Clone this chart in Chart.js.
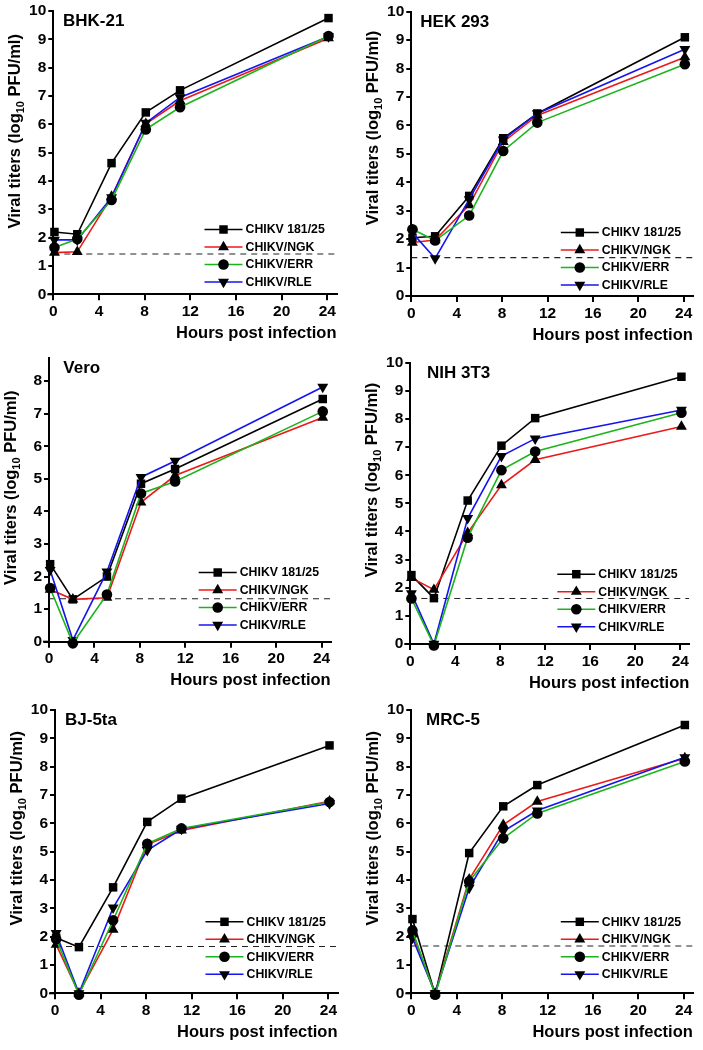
<!DOCTYPE html>
<html>
<head>
<meta charset="utf-8">
<script src="https://cdn.jsdelivr.net/npm/chart.js@4.4.1/dist/chart.umd.min.js"></script>
<style>
  html, body { margin: 0; padding: 0; background: #fff; }
  #wrap { position: relative; width: 703px; height: 1050px; }
  canvas { position: absolute; }
</style>
</head>
<body>
<div id="wrap"></div>
<script>
// sampling times (h) and labels
var hours = [0.1, 2.1, 5.1, 8.1, 11.1, 24.1];
var strains = ["CHIKV 181/25", "CHIKV/NGK", "CHIKV/ERR", "CHIKV/RLE"];
var cellLines = ["BHK-21", "HEK 293", "Vero", "NIH 3T3", "BJ-5ta", "MRC-5"];
var xTicks = [0, 4, 8, 12, 16, 20, 24];
var yTicks10 = [0, 1, 2, 3, 4, 5, 6, 7, 8, 9, 10];
var yTicks8 = [0, 1, 2, 3, 4, 5, 6, 7, 8];
var xTitle = "Hours post infection";
var detLimit = [1.42, 1.35, 1.32, 1.62, 1.65, 1.67];

// log10 PFU/ml, one array per strain and cell line
var bhk181 = [2.20, 2.12, 4.63, 6.42, 7.20, 9.75];
var bhkNGK = [1.47, 1.50, 3.45, 6.02, 6.83, 9.04];
var bhkERR = [1.65, 1.95, 3.33, 5.82, 6.60, 9.12];
var bhkRLE = [1.92, 1.92, 3.42, 6.05, 6.95, 9.10];

var hek181 = [2.05, 2.10, 3.52, 5.55, 6.42, 9.10];
var hekNGK = [1.88, 1.97, 3.20, 5.42, 6.35, 8.40];
var hekERR = [2.35, 1.95, 2.83, 5.10, 6.10, 8.15];
var hekRLE = [2.22, 1.32, 3.40, 5.50, 6.42, 8.68];

var vero181 = [2.38, 1.30, 2.00, 4.85, 5.30, 7.45];
var veroNGK = [1.60, 1.30, 1.35, 4.28, 5.10, 6.88];
var veroERR = [1.65, -0.05, 1.45, 4.55, 4.92, 7.07];
var veroRLE = [2.20, 0.05, 2.15, 5.05, 5.55, 7.82];

var nih181 = [2.45, 1.63, 5.10, 7.05, 8.03, 9.50];
var nihNGK = [2.35, 1.93, 3.95, 5.65, 6.55, 7.73];
var nihERR = [1.62, -0.05, 3.78, 6.18, 6.84, 8.22];
var nihRLE = [1.80, 0.00, 4.47, 6.68, 7.30, 8.32];

var bj181 = [1.96, 1.63, 3.74, 6.05, 6.87, 8.75];
var bjNGK = [1.72, 0.00, 2.25, 5.25, 5.75, 6.78];
var bjERR = [1.92, -0.05, 2.58, 5.28, 5.82, 6.75];
var bjRLE = [2.12, 0.00, 3.02, 5.05, 5.80, 6.70];

var mrc181 = [2.62, -0.03, 4.95, 6.60, 7.35, 9.47];
var mrcNGK = [2.12, 0.00, 4.02, 5.95, 6.77, 8.30];
var mrcERR = [2.22, -0.05, 3.95, 5.47, 6.35, 8.18];
var mrcRLE = [1.95, 0.00, 3.72, 5.72, 6.45, 8.33];

var panelData = [
  [bhk181, bhkNGK, bhkERR, bhkRLE],
  [hek181, hekNGK, hekERR, hekRLE],
  [vero181, veroNGK, veroERR, veroRLE],
  [nih181, nihNGK, nihERR, nihRLE],
  [bj181, bjNGK, bjERR, bjRLE],
  [mrc181, mrcNGK, mrcERR, mrcRLE]
];

// styling / placement
var lineColors = ["#000000", "#ea1a1a", "#1cb41c", "#1414ee"];
var markers = ["rect", "triangle", "circle", "triangle"];
var markerRot = [0, 0, 0, 180];
var markerSize = [6, 6.3, 5.3, 6.3];
var drawOrder = [3, 2, 0, 1];
var FONT = "'Liberation Sans', Arial, sans-serif";
var YW = 40, XH = 49;

var layout = [
  {x: 0,   y: 0,   w: 352, h: 350, l: 53.3, t: 11,   r: 336.5, b: 294.3, ymax: 10,  tx: 9.7,  ty: 163, lg: 12.3},
  {x: 352, y: 0,   w: 351, h: 350, l: 59.3, t: 11.7, r: 340.8, b: 296,   ymax: 10,  tx: 9,    ty: 168, lg: 11},
  {x: 0,   y: 350, w: 352, h: 345, l: 49,   t: 8.3,  r: 330.7, b: 291.7, ymax: 8.7, tx: 14.3, ty: 154, lg: 16.7},
  {x: 352, y: 350, w: 351, h: 345, l: 58.3, t: 12.7, r: 337.3, b: 294,   ymax: 10,  tx: 16.7, ty: 164, lg: 17.3},
  {x: 0,   y: 695, w: 352, h: 355, l: 55,   t: 15,   r: 337.5, b: 298.3, ymax: 10,  tx: 10,   ty: 165, lg: 19},
  {x: 352, y: 695, w: 351, h: 355, l: 59.3, t: 15,   r: 340.8, b: 298.3, ymax: 10,  tx: 14.7, ty: 165, lg: 19}
];

Chart.defaults.font.family = FONT;
Chart.defaults.color = "#000";

function fixX(s) { s.height = XH; s.paddingLeft = 0; s.paddingRight = 0; }
function fixY(s) { s.width = YW; s.paddingTop = 0; s.paddingBottom = 0; }

var decor = {
  id: "decor",
  afterDraw: function (chart) {
    var ctx = chart.ctx, ca = chart.chartArea, o = chart.options.plugins.decor;
    ctx.save();
    // little stub of the x axis left of the y axis
    ctx.strokeStyle = "#000";
    ctx.lineWidth = 2;
    ctx.beginPath();
    ctx.moveTo(ca.left - 6, ca.bottom);
    ctx.lineTo(ca.left, ca.bottom);
    ctx.stroke();

    // panel name
    ctx.fillStyle = "#000";
    ctx.font = "bold 17px " + FONT;
    ctx.textBaseline = "alphabetic";
    ctx.textAlign = "left";
    ctx.fillText(o.name, ca.left + o.tx, ca.top + 14.8);

    // y title with subscript
    ctx.translate(ca.left - 39, ca.bottom - o.ty);
    ctx.rotate(-Math.PI / 2);
    var p1 = "Viral titers (log", sub = "10", p2 = " PFU/ml)";
    ctx.font = "bold 16.5px " + FONT;
    var w1 = ctx.measureText(p1).width, w2 = ctx.measureText(p2).width;
    ctx.font = "bold 11px " + FONT;
    var ws = ctx.measureText(sub).width;
    var x0 = -(w1 + ws + w2) / 2;
    ctx.textBaseline = "alphabetic";
    ctx.font = "bold 16.5px " + FONT;
    ctx.fillText(p1, x0, 6);
    ctx.font = "bold 11px " + FONT;
    ctx.fillText(sub, x0 + w1, 10);
    ctx.font = "bold 16.5px " + FONT;
    ctx.fillText(p2, x0 + w1 + ws, 6);
    ctx.setTransform(1, 0, 0, 1, 0, 0);

    // legend
    var lx = ca.right - 132;
    for (var k = 0; k < strains.length; k++) {
      var yy = ca.bottom - o.lg - (strains.length - 1 - k) * 17.5;
      ctx.strokeStyle = lineColors[k];
      ctx.lineWidth = 1.6;
      ctx.beginPath();
      ctx.moveTo(lx, yy);
      ctx.lineTo(lx + 38, yy);
      ctx.stroke();
      ctx.fillStyle = "#000";
      ctx.strokeStyle = "#000";
      Chart.helpers.drawPoint(ctx, {pointStyle: markers[k], rotation: markerRot[k], radius: markerSize[k], borderWidth: 0}, lx + 19, yy);
      ctx.font = "bold 12.3px " + FONT;
      ctx.textBaseline = "middle";
      ctx.fillText(strains[k], lx + 41, yy + 0.5);
    }
    ctx.restore();
  }
};

var wrap = document.getElementById("wrap");

function makePanel(i) {
  var L = layout[i];
  var cv = document.createElement("canvas");
  cv.width = L.w;
  cv.height = L.h;
  cv.style.left = L.x + "px";
  cv.style.top = L.y + "px";
  wrap.appendChild(cv);

  var sets = panelData[i].map(function (vals, k) {
    return {
      label: strains[k],
      data: vals.map(function (v, j) { return {x: hours[j], y: v}; }),
      borderColor: lineColors[k],
      borderWidth: 1.6,
      pointStyle: markers[k],
      pointRotation: markerRot[k],
      pointRadius: markerSize[k],
      pointBackgroundColor: "#000",
      pointBorderColor: "#000",
      pointBorderWidth: 0,
      tension: 0,
      fill: false,
      clip: false,
      order: drawOrder[k]
    };
  });
  sets.push({
    label: "limit",
    data: [{x: 0, y: detLimit[i]}, {x: 24.8, y: detLimit[i]}],
    borderColor: "#222",
    borderWidth: 1.1,
    borderDash: [6, 5],
    pointRadius: 0,
    fill: false,
    order: 10
  });

  var yt = L.ymax >= 10 ? yTicks10 : yTicks8;

  new Chart(cv, {
    type: "line",
    data: {datasets: sets},
    options: {
      responsive: false,
      animation: false,
      events: [],
      layout: {padding: {left: L.l - YW, top: L.t, right: L.w - L.r, bottom: L.h - L.b - XH}},
      plugins: {
        legend: {display: false},
        tooltip: {enabled: false},
        decor: {name: cellLines[i], tx: L.tx, ty: L.ty, lg: L.lg}
      },
      scales: {
        x: {
          type: "linear", min: 0, max: 24.8,
          afterFit: fixX,
          afterBuildTicks: function (s) { s.ticks = xTicks.map(function (v) { return {value: v}; }); },
          ticks: {color: "#000", font: {size: 15.5, weight: "bold"}, padding: 2, maxRotation: 0, autoSkip: false},
          grid: {drawOnChartArea: false, drawTicks: true, tickLength: 6, color: "#000", lineWidth: 2},
          border: {display: true, color: "#000", width: 2},
          title: {display: true, text: xTitle, align: "end", color: "#000", font: {size: 16.5, weight: "bold"}, padding: 0}
        },
        y: {
          type: "linear", min: 0, max: L.ymax,
          afterFit: fixY,
          afterBuildTicks: function (s) { s.ticks = yt.map(function (v) { return {value: v}; }); },
          ticks: {color: "#000", font: {size: 15.5, weight: "bold"}, padding: 2, autoSkip: false},
          grid: {drawOnChartArea: false, drawTicks: true, tickLength: 5, color: "#000", lineWidth: 2},
          border: {display: true, color: "#000", width: 2}
        }
      }
    },
    plugins: [decor]
  });
}

for (var i = 0; i < cellLines.length; i++) makePanel(i);
</script>
</body>
</html>
